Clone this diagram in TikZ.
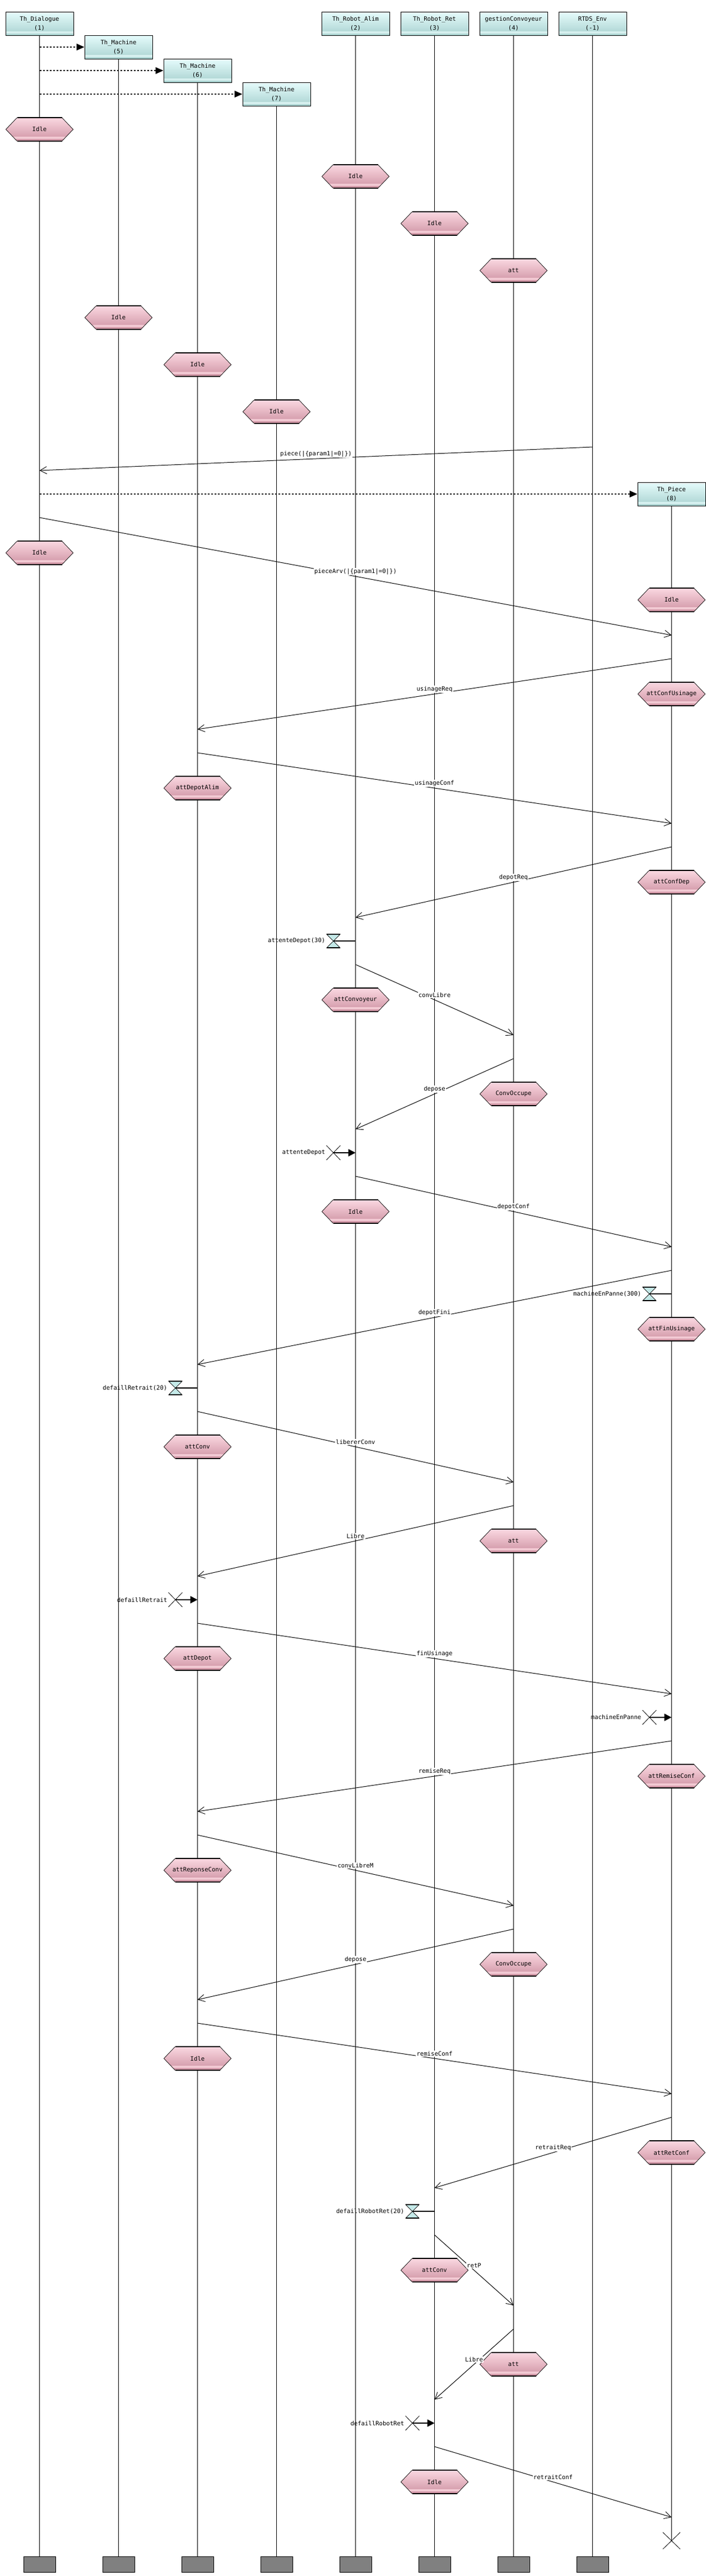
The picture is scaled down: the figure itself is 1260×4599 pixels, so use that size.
\documentclass[tikz,border=0pt]{standalone}
\usepackage{fontspec}
\setmonofont{DejaVu Sans Mono}
\usetikzlibrary{arrows.meta,shapes.misc}
\definecolor{boxTop}{HTML}{E6FCFC}
\definecolor{boxBot}{HTML}{A9D2D0}
\definecolor{boxStrip}{HTML}{D6F0EF}
\definecolor{hexTop}{HTML}{FAD8E1}
\definecolor{hexBot}{HTML}{CF93A3}
\definecolor{hexStrip}{HTML}{F2C9D3}
\definecolor{hourFill}{HTML}{C4E9E8}
\definecolor{endGray}{HTML}{808080}
\newcommand\dfont{\ttfamily\fontsize{10.6}{16}\selectfont}
\def\xD{70.5}\def\xMa{211.5}\def\xMb{352.5}\def\xMc{493.5}\def\xRA{634.5}
\def\xRR{775.5}\def\xGC{916.5}\def\xEnv{1057.5}\def\xP{1198.5}
\tikzset{
  lbox/.style={draw=black, line width=1pt, minimum width=121pt, minimum height=42pt,
    inner sep=0pt, top color=boxTop, bottom color=boxBot, align=center, font=\dfont,
    path picture={\fill[boxStrip] ([yshift=3pt]path picture bounding box.south west)
      rectangle ([yshift=7pt]path picture bounding box.south east);}},
  lifeline/.style={line width=0.9pt},
  msgline/.style={line width=1pt, -{Straight Barb[length=12pt,width=13pt,line width=0.9pt]}},
  mlabel/.style={fill=white, inner sep=1.2pt, font=\dfont, yshift=8.5pt},
  create/.style={line width=1.4pt, dash pattern=on 3.5pt off 2.5pt, -{Triangle[length=14pt,width=12pt]}},
  timerline/.style={line width=2pt},
  resetarrow/.style={line width=2pt, -{Triangle[length=13pt,width=13pt]}},
  endbox/.style={draw=black, line width=1pt, fill=endGray, minimum width=57pt, minimum height=28pt, inner sep=0pt},
  xmark/.style={cross out, draw=black, line width=0.8pt, minimum width=24pt, minimum height=25pt, inner sep=0pt},
  tlabel/.style={font=\dfont, inner sep=0pt, anchor=east},
  stxt/.style={font=\dfont, inner sep=0pt}
}
\newcommand\stnode[4]{%
  \begin{scope}[shift={(#2,#3)}]
    \shade[top color=hexTop, bottom color=hexBot] (-60,0) -- (-40,-21) -- (40,-21) -- (60,0) -- (40,21) -- (-40,21) -- cycle;
    \begin{scope}
      \clip (-60,0) -- (-40,-21) -- (40,-21) -- (60,0) -- (40,21) -- (-40,21) -- cycle;
      \fill[hexStrip] (-60,13) rectangle (60,17);
    \end{scope}
    \draw[line width=0.7pt] (-40,-21) -- (-60,0) -- (-40,21) (40,-21) -- (60,0) -- (40,21);
    \draw[line width=1.6pt] (-40,-21) -- (40,-21) (-40,21) -- (40,21);
  \end{scope}
  \node[stxt] (#1) at (#2,#3) {#4};
}
\newcommand\timerset[4]{%
  \coordinate (#1h) at ({#2-39.5},#3);
  \coordinate (#1l) at (#2,#3);
  \draw[timerline] (#1h) -- (#1l);
  \begin{scope}[shift={(#1h)}]
    \filldraw[fill=hourFill, draw=black, line width=0.7pt] (-12,-12) -- (12,-12) -- (0,0) -- cycle (-12,12) -- (12,12) -- (0,0) -- cycle;
    \draw[line width=1.5pt] (-12,-12) -- (12,-12) (-12,12) -- (12,12);
  \end{scope}
  \node[tlabel] (#1t) at ({#2-54},#3) {#4};
}
\newcommand\timerreset[4]{%
  \node[xmark] (#1x) at ({#2-39.5},#3) {};
  \coordinate (#1l) at (#2,#3);
  \draw[resetarrow] (#1x.center) -- (#1l);
  \node[tlabel] (#1t) at ({#2-54},#3) {#4};
}
\newcommand\msg[6]{%
  \coordinate (#1a) at (#2,#3);
  \coordinate (#1b) at (#4,#5);
  \draw[msgline] (#1a) -- (#1b) node[mlabel, pos=0.5] (#1n) {#6};
}
\begin{document}
\begin{tikzpicture}[x=1pt,y=-1pt]
\fill[white] (0,0) rectangle (1260,4599);
\useasboundingbox (0,0) rectangle (1260,4599);
% header boxes
\node[lbox] (bD) at (\xD,42) {Th\_Dialogue\\(1)};
\node[lbox] (bMa) at (\xMa,84) {Th\_Machine\\(5)};
\node[lbox] (bMb) at (\xMb,126) {Th\_Machine\\(6)};
\node[lbox] (bMc) at (\xMc,168) {Th\_Machine\\(7)};
\node[lbox] (bRA) at (\xRA,42) {Th\_Robot\_Alim\\(2)};
\node[lbox] (bRR) at (\xRR,42) {Th\_Robot\_Ret\\(3)};
\node[lbox] (bGC) at (\xGC,42) {gestionConvoyeur\\(4)};
\node[lbox] (bEnv) at (\xEnv,42) {RTDS\_Env\\(-1)};
\node[lbox] (bP) at (\xP,882) {Th\_Piece\\(8)};
% end boxes
\node[endbox] (eD) at (\xD,4578) {};
\node[endbox] (eMa) at (\xMa,4578) {};
\node[endbox] (eMb) at (\xMb,4578) {};
\node[endbox] (eMc) at (\xMc,4578) {};
\node[endbox] (eRA) at (\xRA,4578) {};
\node[endbox] (eRR) at (\xRR,4578) {};
\node[endbox] (eGC) at (\xGC,4578) {};
\node[endbox] (eEnv) at (\xEnv,4578) {};
\node[cross out, draw=black, line width=0.8pt, minimum width=30pt, minimum height=29pt, inner sep=0pt] (xP) at (\xP,4536) {};
% lifelines
\draw[lifeline] (bD.south) -- (eD.north);
\draw[lifeline] (bMa.south) -- (eMa.north);
\draw[lifeline] (bMb.south) -- (eMb.north);
\draw[lifeline] (bMc.south) -- (eMc.north);
\draw[lifeline] (bRA.south) -- (eRA.north);
\draw[lifeline] (bRR.south) -- (eRR.north);
\draw[lifeline] (bGC.south) -- (eGC.north);
\draw[lifeline] (bEnv.south) -- (eEnv.north);
\draw[lifeline] (bP.south) -- (xP.center);
% creations
\draw[create] (bD.south |- bMa.west) -- (bMa.west);
\draw[create] (bD.south |- bMb.west) -- (bMb.west);
\draw[create] (bD.south |- bMc.west) -- (bMc.west);
\draw[create] (bD.south |- bP.west) -- (bP.west);
% states
\stnode{s1}{\xD}{231}{Idle}
\stnode{s2}{\xRA}{315}{Idle}
\stnode{s3}{\xRR}{399}{Idle}
\stnode{s4}{\xGC}{483}{att}
\stnode{s5}{\xMa}{567}{Idle}
\stnode{s6}{\xMb}{651}{Idle}
\stnode{s7}{\xMc}{735}{Idle}
\stnode{s8}{\xD}{987}{Idle}
\stnode{s9}{\xP}{1071}{Idle}
\stnode{s10}{\xP}{1239}{attConfUsinage}
\stnode{s11}{\xMb}{1407}{attDepotAlim}
\stnode{s12}{\xP}{1575}{attConfDep}
\stnode{s13}{\xRA}{1785}{attConvoyeur}
\stnode{s14}{\xGC}{1953}{ConvOccupe}
\stnode{s15}{\xRA}{2163}{Idle}
\stnode{s16}{\xP}{2373}{attFinUsinage}
\stnode{s17}{\xMb}{2583}{attConv}
\stnode{s18}{\xGC}{2751}{att}
\stnode{s19}{\xMb}{2961}{attDepot}
\stnode{s20}{\xP}{3171}{attRemiseConf}
\stnode{s21}{\xMb}{3339}{attReponseConv}
\stnode{s22}{\xGC}{3507}{ConvOccupe}
\stnode{s23}{\xMb}{3675}{Idle}
\stnode{s24}{\xP}{3843}{attRetConf}
\stnode{s25}{\xRR}{4053}{attConv}
\stnode{s26}{\xGC}{4221}{att}
\stnode{s27}{\xRR}{4431}{Idle}
% messages
\msg{m1}{\xEnv}{798}{\xD}{840}{piece(|\{param1|=0|\})}
\msg{m2}{\xD}{924}{\xP}{1134}{pieceArv(|\{param1|=0|\})}
\msg{m3}{\xP}{1176}{\xMb}{1302}{usinageReq}
\msg{m4}{\xMb}{1344}{\xP}{1470}{usinageConf}
\msg{m5}{\xP}{1512}{\xRA}{1638}{depotReq}
\msg{m6}{\xRA}{1722}{\xGC}{1848}{convLibre}
\msg{m7}{\xGC}{1890}{\xRA}{2016}{depose}
\msg{m8}{\xRA}{2100}{\xP}{2226}{depotConf}
\msg{m9}{\xP}{2268}{\xMb}{2436}{depotFini}
\msg{m10}{\xMb}{2520}{\xGC}{2646}{libererConv}
\msg{m11}{\xGC}{2688}{\xMb}{2814}{Libre}
\msg{m12}{\xMb}{2898}{\xP}{3024}{finUsinage}
\msg{m13}{\xP}{3108}{\xMb}{3234}{remiseReq}
\msg{m14}{\xMb}{3276}{\xGC}{3402}{convLibreM}
\msg{m15}{\xGC}{3444}{\xMb}{3570}{depose}
\msg{m16}{\xMb}{3612}{\xP}{3738}{remiseConf}
\msg{m17}{\xP}{3780}{\xRR}{3906}{retraitReq}
\msg{m18}{\xRR}{3990}{\xGC}{4116}{retP}
\msg{m19}{\xGC}{4158}{\xRR}{4284}{Libre}
\msg{m20}{\xRR}{4368}{\xP}{4494}{retraitConf}
% timers
\timerset{t1}{\xRA}{1680}{attenteDepot(30)}
\timerreset{r1}{\xRA}{2058}{attenteDepot}
\timerset{t2}{\xP}{2310}{machineEnPanne(300)}
\timerset{t3}{\xMb}{2478}{defaillRetrait(20)}
\timerreset{r3}{\xMb}{2856}{defaillRetrait}
\timerreset{r2}{\xP}{3066}{machineEnPanne}
\timerset{t4}{\xRR}{3948}{defaillRobotRet(20)}
\timerreset{r4}{\xRR}{4326}{defaillRobotRet}
\end{tikzpicture}
\end{document}
